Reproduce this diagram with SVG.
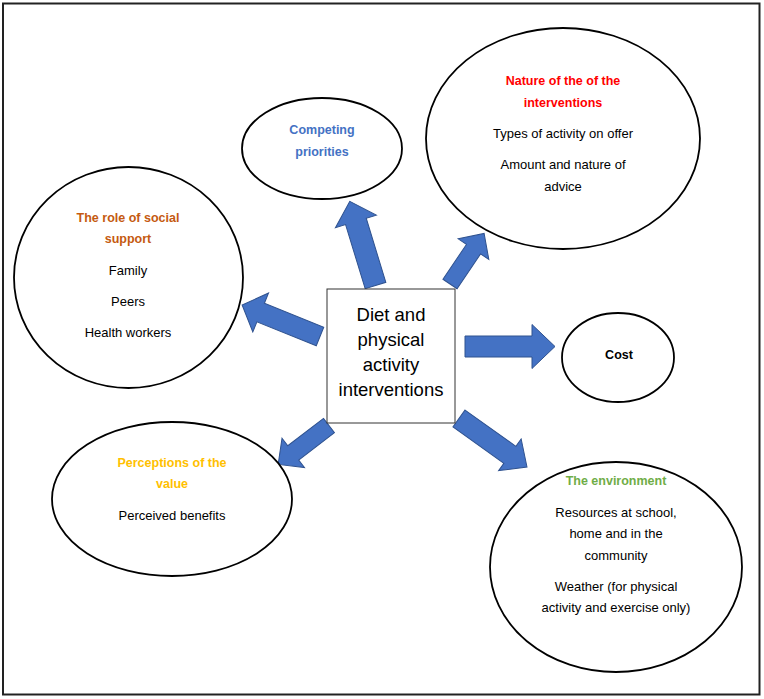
<svg xmlns="http://www.w3.org/2000/svg" width="764" height="699" viewBox="0 0 764 699">
<style>
.node{fill:#fff;stroke:#000;stroke-width:1.8}
.t{font-family:"Liberation Sans",Arial,sans-serif;font-size:13px;fill:#000;text-anchor:middle}
.h{font-family:"Liberation Sans",Arial,sans-serif;font-size:12.5px;font-weight:bold;text-anchor:middle}
.c{font-family:"Liberation Sans",Arial,sans-serif;font-size:18.5px;fill:#000;text-anchor:middle}
.arr{fill:#4472C4;stroke:#2F528F;stroke-width:1}
</style>
<rect x="0" y="0" width="764" height="699" fill="#fff"/>
<rect x="3" y="3.5" width="756.5" height="691" fill="none" stroke="#222" stroke-width="2"/>

<g id="connectors">
<polygon class="arr" transform="translate(375.5,285.5) rotate(-107)" points="0,-10.8 67,-10.8 67,-21.4 88,0 67,21.4 67,10.8 0,10.8"/>
<polygon class="arr" transform="translate(450,284) rotate(-56)" points="0,-8.5 42,-8.5 42,-18.5 61,0 42,18.5 42,8.5 0,8.5"/>
<polygon class="arr" transform="translate(320,336.5) rotate(-158)" points="0,-10 64,-10 64,-21 84,0 64,21 64,10 0,10"/>
<polygon class="arr" transform="translate(465,346.5)" points="0,-10.5 67,-10.5 67,-22 90,0 67,22 67,10.5 0,10.5"/>
<polygon class="arr" transform="translate(329,425.5) rotate(142.6)" points="0,-9 45,-9 45,-18.5 64,0 45,18.5 45,9 0,9"/>
<polygon class="arr" transform="translate(459,418.5) rotate(35.5)" points="0,-10.4 62.5,-10.4 62.5,-19.4 83.5,0 62.5,19.4 62.5,10.4 0,10.4"/>
</g>

<g id="center">
<rect x="327" y="289" width="128" height="134" fill="#fff" stroke="#333" stroke-width="1"/>
<text class="c" x="391" y="320.5">Diet and</text>
<text class="c" x="391" y="345.5">physical</text>
<text class="c" x="391" y="370.5">activity</text>
<text class="c" x="391" y="395.5">interventions</text>
</g>

<g id="social-support">
<ellipse class="node" cx="128.5" cy="277.5" rx="114.5" ry="110.5"/>
<text class="h" x="128" y="221.5" fill="#C55A11">The role of social</text>
<text class="h" x="128" y="242.5" fill="#C55A11">support</text>
<text class="t" x="128" y="274.5">Family</text>
<text class="t" x="128" y="305.5">Peers</text>
<text class="t" x="128" y="336.5">Health workers</text>
</g>

<g id="competing-priorities">
<ellipse class="node" cx="322" cy="148.5" rx="80" ry="50.5"/>
<text class="h" x="322" y="134" fill="#4472C4">Competing</text>
<text class="h" x="322" y="156" fill="#4472C4">priorities</text>
</g>

<g id="nature">
<ellipse class="node" cx="563" cy="138.5" rx="137" ry="110.5"/>
<text class="h" x="563" y="84.5" fill="#FF0000">Nature of the of the</text>
<text class="h" x="563" y="106.5" fill="#FF0000">interventions</text>
<text class="t" x="563" y="137.5">Types of activity on offer</text>
<text class="t" x="563" y="168.5">Amount and nature of</text>
<text class="t" x="563" y="190.5">advice</text>
</g>

<g id="cost">
<ellipse class="node" cx="618" cy="357.5" rx="56" ry="44.5"/>
<text class="h" x="619" y="358.5" fill="#000">Cost</text>
</g>

<g id="perceptions">
<ellipse class="node" cx="172" cy="499" rx="120" ry="77"/>
<text class="h" x="172" y="466.5" fill="#FFC000">Perceptions of the</text>
<text class="h" x="172" y="487.5" fill="#FFC000">value</text>
<text class="t" x="172" y="519.5">Perceived benefits</text>
</g>

<g id="environment">
<ellipse class="node" cx="616" cy="567" rx="126" ry="105"/>
<text class="h" x="616" y="484.5" fill="#70AD47">The environment</text>
<text class="t" x="616" y="516.5">Resources at school,</text>
<text class="t" x="616" y="537.5">home and in the</text>
<text class="t" x="616" y="559.5">community</text>
<text class="t" x="616" y="590.5">Weather (for physical</text>
<text class="t" x="616" y="611.5">activity and exercise only)</text>
</g>
</svg>
